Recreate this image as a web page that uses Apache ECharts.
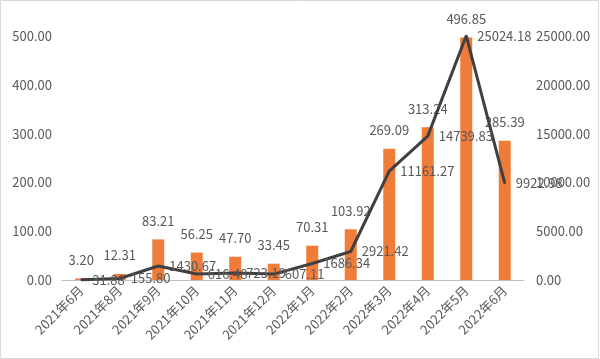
<!DOCTYPE html>
<html>
<head>
<meta charset="utf-8">
<script src="https://cdn.jsdelivr.net/npm/echarts@6/dist/echarts.min.js"></script>
<style>
html,body{margin:0;padding:0;background:#fff;}
#c{width:600px;height:359px;}
</style>
</head>
<body>
<div id="c"></div>
<script>
const categories = ['2021年6月','2021年8月','2021年9月','2021年10月','2021年11月','2021年12月','2022年1月','2022年2月','2022年3月','2022年4月','2022年5月','2022年6月'];
const barValues = [3.20, 12.31, 83.21, 56.25, 47.70, 33.45, 70.31, 103.92, 269.09, 313.24, 496.85, 285.39];
const lineValues = [31.88, 155.80, 1430.67, 616.48, 723.19, 607.11, 1686.34, 2921.42, 11161.27, 14739.83, 25024.18, 9922.98];
const leftTicks = {min: 0, max: 500, interval: 100};
const rightTicks = {min: 0, max: 25000, interval: 5000};

const font = '"Noto Sans CJK SC", "Noto Sans", sans-serif';
const txt = '#595959';
const chart = echarts.init(document.getElementById('c'), null, {renderer: 'canvas'});
chart.setOption({
  animation: false,
  backgroundColor: '#fff',
  textStyle: {fontFamily: font},
  graphic: [{type: 'rect', shape: {x: 0.5, y: 0.5, width: 598, height: 358}, style: {fill: 'none', stroke: '#d9d9d9', lineWidth: 1}}],
  grid: {left: 62, right: 76, top: 36, bottom: 79, containLabel: false},
  xAxis: {
    type: 'category', data: categories,
    axisLine: {lineStyle: {color: '#bfbfbf', width: 1}},
    axisTick: {show: false},
    axisLabel: {rotate: 45, color: txt, fontSize: 13, fontFamily: font, margin: 8, interval: 0}
  },
  yAxis: [
    {type: 'value', min: leftTicks.min, max: leftTicks.max, interval: leftTicks.interval,
     splitLine: {show: false}, axisLine: {show: false}, axisTick: {show: false},
     axisLabel: {color: txt, fontSize: 13, fontFamily: font, margin: 10, formatter: v => v.toFixed(2)}},
    {type: 'value', min: rightTicks.min, max: rightTicks.max, interval: rightTicks.interval,
     splitLine: {show: false}, axisLine: {show: false}, axisTick: {show: false},
     axisLabel: {color: txt, fontSize: 13, fontFamily: font, margin: 12, formatter: v => v.toFixed(2)}}
  ],
  series: [
    {type: 'bar', data: barValues, yAxisIndex: 0, barWidth: 12,
     itemStyle: {color: '#F07C3A'},
     label: {show: true, position: 'top', distance: 12, color: txt, fontSize: 13, fontFamily: font, formatter: p => p.value.toFixed(2)}},
    {type: 'line', data: lineValues, yAxisIndex: 1, clip: false, showSymbol: true, showAllSymbol: true, symbol: 'circle', symbolSize: 2,
     itemStyle: {color: '#404040'},
     lineStyle: {color: '#404040', width: 3},
     labelLayout: {hideOverlap: false},
     label: {show: true, position: 'right', distance: 10, color: txt, fontSize: 13, fontFamily: font,
             formatter: p => Number(p.value).toFixed(2)}}
  ]
});
</script>
</body>
</html>
